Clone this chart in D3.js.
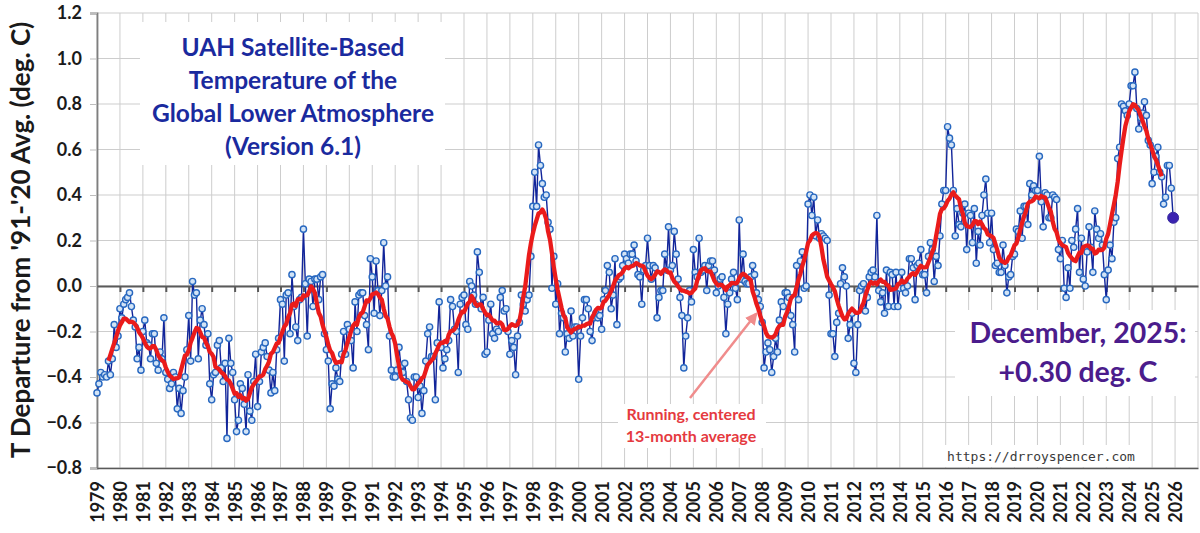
<!DOCTYPE html>
<html><head><meta charset="utf-8">
<script src="https://cdn.jsdelivr.net/npm/d3@7"></script>
<style>body{margin:0;background:#fff}svg{display:block}</style>
</head><body>
<svg id="c" width="1200" height="533"></svg>
<script>
// ---- monthly UAH LT anomalies (deg C, vs 1991-2020) ----
const t1979 = [-0.47,-0.43,-0.38,-0.40,-0.39,-0.40,-0.33,-0.39,-0.32,-0.17,-0.27,-0.22];
const t1980 = [-0.10,-0.14,-0.08,-0.06,-0.05,-0.03,-0.09,-0.15,-0.18,-0.32,-0.27,-0.37];
const t1981 = [-0.20,-0.15,-0.25,-0.26,-0.32,-0.21,-0.21,-0.34,-0.37,-0.29,-0.32,-0.14];
const t1982 = [-0.38,-0.41,-0.45,-0.43,-0.38,-0.40,-0.54,-0.45,-0.56,-0.46,-0.40,-0.28];
const t1983 = [-0.13,-0.33,0.02,-0.04,-0.03,-0.32,-0.15,-0.10,-0.17,-0.26,-0.21,-0.43];
const t1984 = [-0.50,-0.39,-0.38,-0.26,-0.24,-0.36,-0.42,-0.34,-0.67,-0.23,-0.34,-0.38];
const t1985 = [-0.50,-0.64,-0.59,-0.43,-0.45,-0.52,-0.64,-0.39,-0.55,-0.59,-0.42,-0.30];
const t1986 = [-0.53,-0.42,-0.29,-0.27,-0.25,-0.31,-0.37,-0.47,-0.38,-0.46,-0.28,-0.23];
const t1987 = [-0.06,-0.08,-0.33,-0.04,-0.03,-0.21,0.05,-0.09,-0.18,-0.24,-0.06,-0.05];
const t1988 = [0.25,0.01,-0.22,0.03,0.02,-0.09,0.03,0.03,-0.06,0.04,0.05,-0.21];
const t1989 = [-0.28,-0.33,-0.54,-0.43,-0.44,-0.36,-0.41,-0.42,-0.30,-0.20,-0.30,-0.17];
const t1990 = [-0.19,-0.24,-0.36,-0.07,-0.20,-0.04,-0.03,-0.03,-0.13,-0.17,-0.28,0.12];
const t1991 = [0.04,-0.12,0.11,-0.02,-0.13,-0.02,0.19,0.00,0.04,-0.22,-0.37,-0.40];
const t1992 = [-0.40,-0.37,-0.27,-0.35,-0.38,-0.34,-0.42,-0.50,-0.58,-0.59,-0.40,-0.40];
const t1993 = [-0.49,-0.44,-0.56,-0.46,-0.33,-0.21,-0.18,-0.31,-0.31,-0.50,-0.25,-0.07];
const t1994 = [-0.27,-0.36,-0.32,-0.28,-0.24,-0.06,-0.09,-0.19,-0.20,-0.38,-0.08,-0.05];
const t1995 = [-0.04,-0.17,-0.19,0.02,0.00,-0.04,-0.08,0.15,0.06,-0.10,-0.05,-0.30];
const t1996 = [-0.29,-0.15,-0.08,-0.21,-0.23,-0.19,-0.20,-0.05,-0.02,-0.11,-0.10,-0.20];
const t1997 = [-0.30,-0.24,-0.27,-0.39,-0.22,-0.16,-0.04,-0.08,-0.11,-0.06,-0.04,0.13];
const t1998 = [0.35,0.50,0.35,0.62,0.53,0.45,0.39,0.40,0.28,0.25,-0.01,0.13];
const t1999 = [-0.08,0.01,-0.21,-0.12,-0.14,-0.29,-0.21,-0.23,-0.11,-0.22,-0.18,-0.18];
const t2000 = [-0.41,-0.22,-0.14,-0.06,-0.06,-0.10,-0.20,-0.24,-0.14,-0.12,-0.14,-0.13];
const t2001 = [-0.19,-0.06,-0.02,0.09,0.06,-0.10,-0.04,0.12,-0.17,0.03,0.04,0.09];
const t2002 = [0.14,0.12,0.10,0.14,0.14,0.18,0.11,0.05,0.04,-0.08,0.07,0.09];
const t2003 = [0.21,0.09,0.03,0.09,0.08,-0.14,-0.05,-0.02,-0.02,0.14,0.07,0.26];
const t2004 = [0.07,0.09,0.24,0.14,0.03,-0.05,-0.13,-0.36,-0.22,-0.14,-0.02,-0.07];
const t2005 = [0.16,0.06,0.04,0.21,0.06,0.07,0.09,-0.02,0.09,0.11,0.11,0.07];
const t2006 = [-0.03,0.00,0.03,0.04,-0.05,-0.21,-0.08,-0.03,0.03,0.06,-0.01,-0.06];
const t2007 = [0.29,0.03,0.14,0.02,0.01,0.01,0.04,0.09,0.05,-0.03,-0.06,-0.09];
const t2008 = [-0.16,-0.36,-0.29,-0.25,-0.28,-0.38,-0.31,-0.23,-0.29,-0.15,-0.07,-0.09];
const t2009 = [-0.03,-0.03,-0.05,-0.13,-0.17,-0.29,0.09,-0.06,0.11,0.15,-0.01,0.00];
const t2010 = [0.36,0.40,0.31,0.39,0.22,0.29,0.21,0.23,0.22,0.21,0.20,-0.04];
const t2011 = [-0.21,-0.21,-0.31,-0.16,-0.12,0.01,0.08,0.04,0.00,-0.23,-0.17,-0.12];
const t2012 = [-0.34,-0.38,-0.17,-0.02,0.00,0.01,-0.11,-0.05,0.04,0.06,0.07,0.04];
const t2013 = [0.31,-0.02,-0.07,-0.03,-0.12,0.07,-0.09,0.06,0.05,-0.09,0.06,-0.09];
const t2014 = [-0.01,0.06,-0.01,-0.03,0.00,0.12,0.12,0.08,-0.06,0.09,0.10,0.16];
const t2015 = [0.05,0.05,-0.03,0.13,0.19,0.16,0.02,0.13,0.09,0.22,0.36,0.42];
const t2016 = [0.42,0.70,0.65,0.62,0.42,0.22,0.34,0.27,0.26,0.32,0.36,0.16];
const t2017 = [0.32,0.31,0.19,0.34,0.10,0.24,0.18,0.31,0.40,0.47,0.32,0.19];
const t2018 = [0.32,0.16,0.09,0.10,0.06,0.06,0.18,0.09,-0.03,0.04,0.05,0.13];
const t2019 = [0.14,0.25,0.24,0.33,0.21,0.35,0.35,0.27,0.45,0.40,0.44,0.42];
const t2020 = [0.42,0.57,0.37,0.26,0.41,0.40,0.30,0.30,0.40,0.39,0.38,0.16];
const t2021 = [0.12,0.20,-0.01,-0.05,0.08,-0.01,0.20,0.17,0.25,0.34,0.06,0.21];
const t2022 = [0.03,0.00,0.15,0.26,0.17,0.06,0.33,0.25,0.21,0.23,0.18,0.05];
const t2023 = [-0.06,0.07,0.18,0.12,0.28,0.30,0.56,0.61,0.80,0.79,0.77,0.75];
const t2024 = [0.80,0.88,0.88,0.94,0.78,0.69,0.74,0.76,0.81,0.75,0.64,0.62];
const t2025 = [0.45,0.50,0.57,0.61,0.50,0.48,0.36,0.39,0.53,0.53,0.43,0.30];

const startYear = 1979;
const yTicks = [-0.8,-0.6,-0.4,-0.2,0.0,0.2,0.4,0.6,0.8,1.0,1.2];
const xTickYears = d3.range(1979, 2027);     // labelled years
const gridYears = d3.range(1979, 2028);
const titleLines = ["UAH Satellite-Based","Temperature of the","Global Lower Atmosphere","(Version 6.1)"];
const latestLines = ["December, 2025:","+0.30 deg. C"];
const noteLines = ["Running, centered","13-month average"];
const yTitle = "T Departure from '91-'20 Avg. (deg. C)";
const urlText = "https://drroyspencer.com";

const yearsData = [t1979,t1980,t1981,t1982,t1983,t1984,t1985,t1986,t1987,t1988,t1989,t1990,
  t1991,t1992,t1993,t1994,t1995,t1996,t1997,t1998,t1999,t2000,t2001,t2002,t2003,t2004,t2005,
  t2006,t2007,t2008,t2009,t2010,t2011,t2012,t2013,t2014,t2015,t2016,t2017,t2018,t2019,t2020,
  t2021,t2022,t2023,t2024,t2025];
const series = yearsData.flat().map((v,i)=>({t: startYear + i/12, v}));
const running = [];
for (let i = 6; i < series.length - 6; i++) {
  running.push({t: series[i].t, v: d3.mean(series.slice(i-6, i+7), d=>d.v)});
}

const FONT = "Lato, 'Open Sans', 'Liberation Sans', sans-serif";
const svg = d3.select('#c');
const x = d3.scaleLinear().domain([1979, 2027]).range([97, 1198]);
const y = d3.scaleLinear().domain([-0.8, 1.2]).range([468, 13]);

// gridlines
svg.append('g').selectAll('line').data(gridYears).join('line')
  .attr('x1', d=>x(d)).attr('x2', d=>x(d)).attr('y1', y(1.2)).attr('y2', y(-0.8))
  .attr('stroke', '#cdcdcd').attr('stroke-width', 1);
svg.append('g').selectAll('line').data(yTicks).join('line')
  .attr('x1', x(1979)).attr('x2', x(2027)).attr('y1', d=>y(d)).attr('y2', d=>y(d))
  .attr('stroke', '#cdcdcd').attr('stroke-width', 1);

// white label boxes
const boxes = [[140,22,305,143],[955,310,240,86],[618,404,148,44],[940,445,204,22]];
svg.append('g').selectAll('rect').data(boxes).join('rect')
  .attr('x', d=>d[0]).attr('y', d=>d[1]).attr('width', d=>d[2]).attr('height', d=>d[3])
  .attr('fill', '#fff');

// y axis
const yAxis = svg.append('g').attr('transform', `translate(${x(1979)},0)`)
  .call(d3.axisLeft(y).tickValues(yTicks).tickFormat(d3.format('.1f')).tickSize(7).tickPadding(8));
yAxis.select('.domain').attr('stroke', '#7f7f7f').attr('stroke-width', 1.8);
yAxis.selectAll('.tick line').attr('stroke', '#bdbdbd');
yAxis.selectAll('text').attr('font-family', FONT).attr('font-weight', 700)
  .attr('font-size', 18).attr('fill', '#1a1a1a');

// x axis (bottom)
const xAxis = svg.append('g').attr('transform', `translate(0,${y(-0.8)})`)
  .call(d3.axisBottom(x).tickValues(xTickYears).tickFormat(d3.format('d')).tickSize(0));
xAxis.select('.domain').attr('stroke', '#595959').attr('stroke-width', 1.5);
xAxis.selectAll('text').attr('font-family', FONT).attr('font-weight', 700)
  .attr('font-size', 18).attr('fill', '#1a1a1a')
  .attr('transform', 'rotate(-90)').attr('text-anchor', 'end')
  .attr('x', -13).attr('y', 0).attr('dy', '0.36em');

// zero line with year ticks
const zeroAxis = svg.append('g').attr('transform', `translate(0,${y(0)})`)
  .call(d3.axisBottom(x).tickValues(gridYears.slice(1, -1)).tickFormat('').tickSize(6).tickSizeOuter(0));
zeroAxis.select('.domain').attr('stroke', '#5a5a5a').attr('stroke-width', 2.2);
zeroAxis.selectAll('.tick line').attr('stroke', '#5a5a5a').attr('stroke-width', 2);

// monthly line + markers
const line = d3.line().x(d=>x(d.t)).y(d=>y(d.v));
svg.append('path').datum(series).attr('d', line)
  .attr('fill', 'none').attr('stroke', '#12259a').attr('stroke-width', 1.4);
svg.append('g').selectAll('circle').data(series.slice(0, -1)).join('circle')
  .attr('cx', d=>x(d.t)).attr('cy', d=>y(d.v)).attr('r', 3.1)
  .attr('fill', '#d3e4f6').attr('stroke', '#2868c0').attr('stroke-width', 1.4);

// running mean
svg.append('path').datum(running).attr('d', line)
  .attr('fill', 'none').attr('stroke', '#ea1b1b').attr('stroke-width', 4.3)
  .attr('stroke-linejoin', 'round');

// latest point
const last = series[series.length - 1];
svg.append('circle').attr('cx', x(last.t)).attr('cy', y(last.v)).attr('r', 5.5)
  .attr('fill', '#3a22b0').attr('stroke', '#3b2fa0').attr('stroke-width', 1);

// titles
svg.append('g').selectAll('text').data(titleLines).join('text')
  .attr('x', 293).attr('y', (d,i)=>56 + i*33).attr('text-anchor', 'middle')
  .attr('font-family', FONT).attr('font-weight', 700).attr('font-size', 24.5)
  .attr('fill', '#1a2a9e').text(d=>d);

svg.append('g').selectAll('text').data(latestLines).join('text')
  .attr('x', 1078).attr('y', (d,i)=>343 + i*39).attr('text-anchor', 'middle')
  .attr('font-family', FONT).attr('font-weight', 700).attr('font-size', 28.5)
  .attr('fill', '#4b1c8c').text(d=>d);

svg.append('g').selectAll('text').data(noteLines).join('text')
  .attr('x', 691).attr('y', (d,i)=>420 + i*22).attr('text-anchor', 'middle')
  .attr('font-family', FONT).attr('font-weight', 700).attr('font-size', 16)
  .attr('fill', '#e53a3f').text(d=>d);

// arrow
svg.append('defs').append('marker').attr('id', 'ah').attr('viewBox', '0 0 10 10')
  .attr('refX', 8).attr('refY', 5).attr('markerWidth', 5).attr('markerHeight', 5)
  .attr('orient', 'auto').append('path').attr('d', 'M0,0L10,5L0,10z').attr('fill', '#f08c8c');
svg.append('line').attr('x1', 690).attr('y1', 398).attr('x2', 756).attr('y2', 314)
  .attr('stroke', '#f08c8c').attr('stroke-width', 2.5).attr('marker-end', 'url(#ah)');

svg.append('text').attr('x', 1041).attr('y', 461).attr('text-anchor', 'middle')
  .attr('font-family', "'DejaVu Sans Mono', 'Liberation Mono', monospace").attr('font-size', 13)
  .attr('fill', '#3a3a3a').text(urlText);

svg.append('text').attr('transform', 'translate(20,240) rotate(-90)')
  .attr('text-anchor', 'middle').attr('dominant-baseline', 'central')
  .attr('font-family', FONT).attr('font-weight', 700).attr('font-size', 26)
  .attr('fill', '#1a1a1a').text(yTitle);
</script>
</body></html>
